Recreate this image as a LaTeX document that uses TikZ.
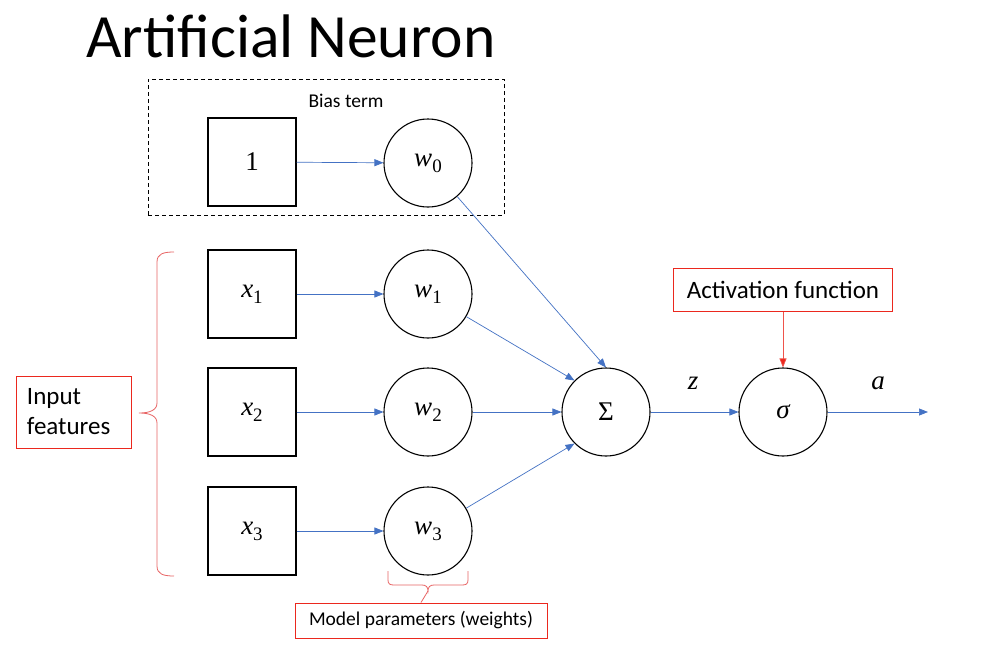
\documentclass[tikz,border=0pt]{standalone}
\usepackage{fontspec}
\setmainfont{Carlito}
\newfontfamily\mfont{Liberation Serif}
\newcommand\mvar[2]{{\mfont\itshape #1}\raisebox{-0.22em}{\mfont\fontsize{19}{22}\selectfont #2}}
\usetikzlibrary{arrows.meta}
\definecolor{arrblue}{RGB}{68,114,196}
\definecolor{boxred}{RGB}{235,40,30}
\definecolor{bracered}{RGB}{232,100,100}
\tikzset{
  sq/.style={draw, line width=1.1pt, minimum size=88pt, inner sep=0pt, font=\fontsize{27}{32}\selectfont},
  circ/.style={draw, circle, line width=1.1pt, minimum size=88pt, inner sep=0pt, font=\fontsize{27}{32}\selectfont},
  arr/.style={draw=arrblue, line width=0.7pt, -{Triangle[length=9pt,width=7pt]}},
  redarr/.style={draw=boxred!80, line width=0.7pt, -{Triangle[length=9pt,width=7pt,fill=boxred]}},
  redbox/.style={draw=boxred, line width=1pt, inner sep=0pt},
  bracestyle/.style={draw=bracered, line width=0.8pt},
  lbl/.style={font=\fontsize{19.5}{23}\selectfont, inner sep=0pt},
  mathlbl/.style={font=\fontsize{27}{32}\selectfont, inner sep=0pt}
}
\begin{document}
\begin{tikzpicture}[x=1pt,y=-1pt]
\useasboundingbox (0,0) rectangle (994,664);
\fill[white] (0,0) rectangle (994,664);
% title
\node[anchor=base west, inner sep=0pt, font=\fontsize{61.5}{72}\selectfont] (title) at (86,57) {Artificial Neuron};
% bias box
\node[draw, dashed, dash pattern=on 4pt off 3pt, line width=1pt, minimum width=356pt, minimum height=136pt, inner sep=0pt] (biasbox) at (326,147) {};
\node[lbl] (biaslbl) at (346,101) {Bias term};
% inputs
\node[sq] (one) at (252,162) {\mfont 1};
\node[sq] (x1) at (252,294) {\mvar{x}{1}};
\node[sq] (x2) at (252,412) {\mvar{x}{2}};
\node[sq] (x3) at (252,531) {\mvar{x}{3}};
% weights
\node[circ] (w0) at (428,163) {\mvar{w}{0}};
\node[circ] (w1) at (428,294) {\mvar{w}{1}};
\node[circ] (w2) at (428,412) {\mvar{w}{2}};
\node[circ] (w3) at (428,531) {\mvar{w}{3}};
% sum and activation
\node[circ] (sum) at (606,412) {\mfont Σ};
\node[circ] (sig) at (783,412) {\mfont\itshape σ};
\coordinate (out) at (928,412);
\node[mathlbl] (zl) at (693,383) {\mfont\itshape z};
\node[mathlbl] (al) at (878,383) {\mfont\itshape a};
% connectors
\draw[arr] (one) -- (w0);
\draw[arr] (x1) -- (w1);
\draw[arr] (x2) -- (w2);
\draw[arr] (x3) -- (w3);
\draw[arr] (w0) -- (sum.north);
\draw[arr] (w1) -- (sum.north west);
\draw[arr] (w2) -- (sum);
\draw[arr] (w3) -- (sum.south west);
\draw[arr] (sum) -- (sig);
\draw[arr] (sig) -- (out);
% activation function
\node[redbox, minimum width=219pt, minimum height=43pt, font=\fontsize{25}{30}\selectfont] (act) at (783,290) {Activation function};
\draw[redarr] (act) -- (sig);
% input features
\node[redbox, minimum width=115pt, minimum height=72pt, text width=93pt, align=left, inner xsep=11pt, font=\fontsize{25}{30}\selectfont] (inp) at (73.5,412) {Input\\features};
\draw[bracestyle] (174,252) .. controls (163,252) and (157,254) .. (157,262) -- (157,403) .. controls (157,410) and (150,413) .. (139,413) .. controls (150,413) and (157,416) .. (157,423) -- (157,566) .. controls (157,574) and (163,576) .. (174,576);
% model parameters
\node[redbox, minimum width=252pt, minimum height=35pt, font=\fontsize{19.5}{23}\selectfont] (model) at (421,620.5) {Model parameters (weights)};
\coordinate (btip) at (428,591);
\draw[bracestyle] (388,571) -- (388,580) .. controls (388,584) and (390,585) .. (394,585) -- (422,585) .. controls (426,585) and (428,587) .. (btip) .. controls (428,587) and (430,585) .. (434,585) -- (462,585) .. controls (466,585) and (468,584) .. (468,580) -- (468,571);
\draw[bracestyle] (btip) -- (model.north);
\end{tikzpicture}
\end{document}
